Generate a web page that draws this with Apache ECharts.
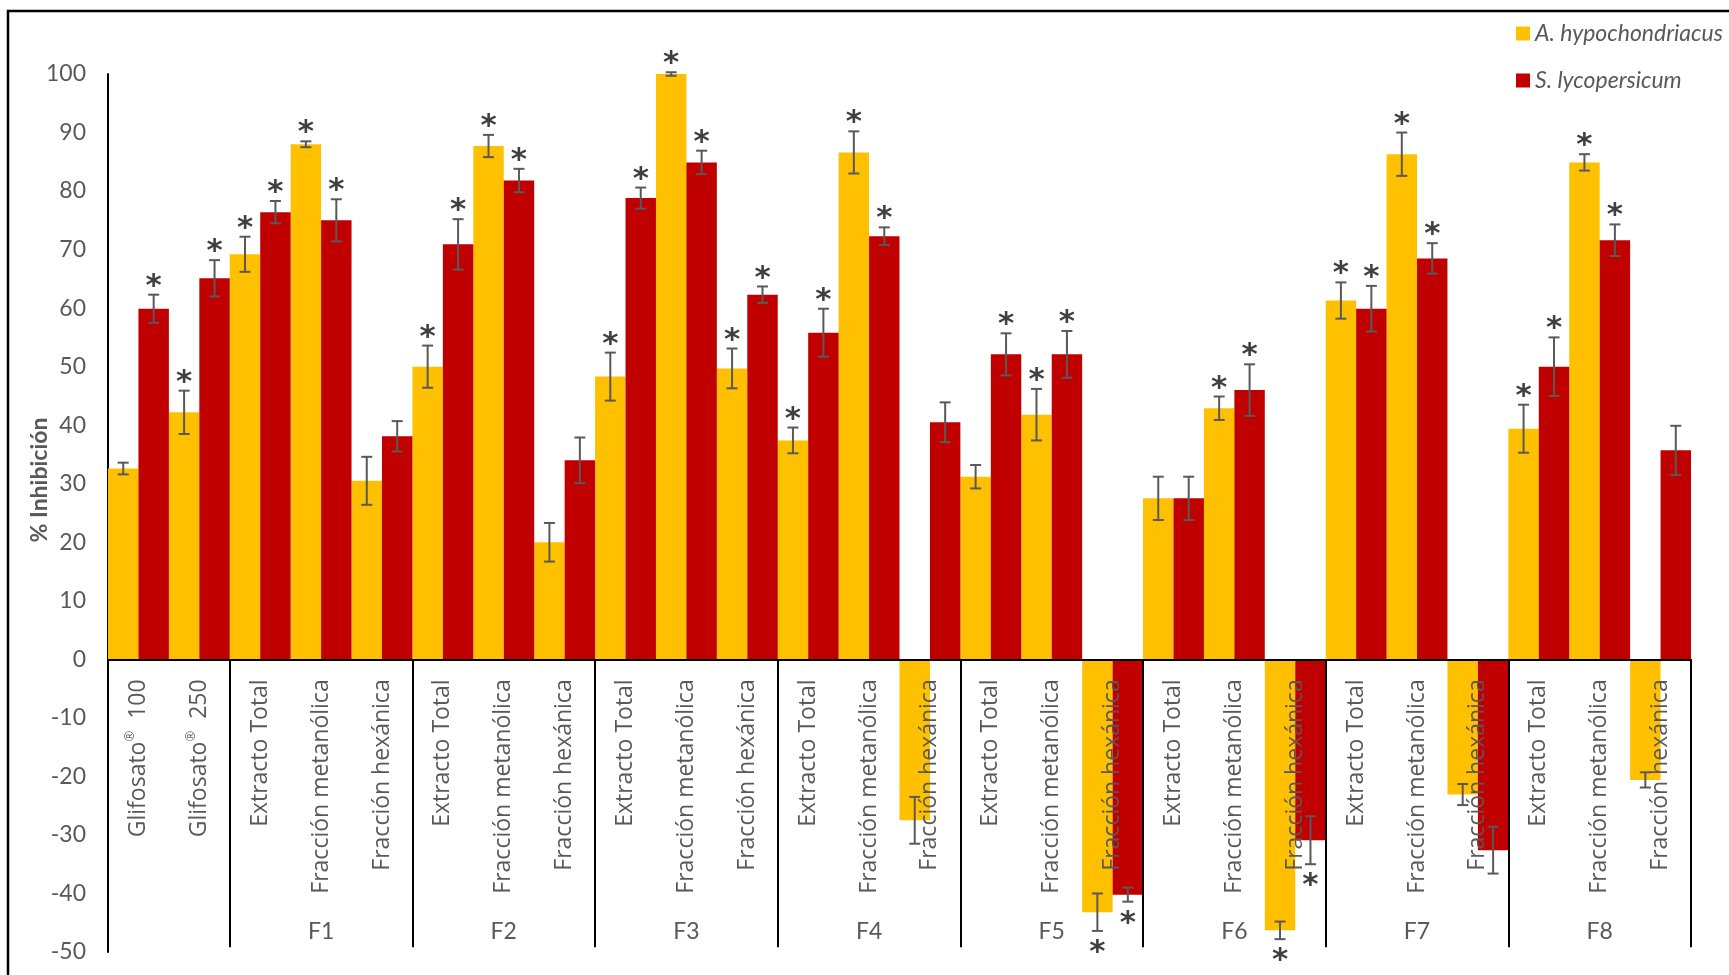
<!DOCTYPE html>
<html>
<head>
<meta charset="utf-8">
<script src="https://cdn.jsdelivr.net/npm/echarts@6/dist/echarts.min.js"></script>
<style>
  html, body { margin: 0; padding: 0; background: #fff; }
  #chart { width: 1729px; height: 975px; }
</style>
</head>
<body>
<div id="chart"></div>
<script>
// Treatments on the category axis (one bar pair per treatment)
const categories = [
  'Glifosato® 100', 'Glifosato® 250',
  'Extracto Total', 'Fracción metanólica', 'Fracción hexánica',
  'Extracto Total', 'Fracción metanólica', 'Fracción hexánica',
  'Extracto Total', 'Fracción metanólica', 'Fracción hexánica',
  'Extracto Total', 'Fracción metanólica', 'Fracción hexánica',
  'Extracto Total', 'Fracción metanólica', 'Fracción hexánica',
  'Extracto Total', 'Fracción metanólica', 'Fracción hexánica',
  'Extracto Total', 'Fracción metanólica', 'Fracción hexánica',
  'Extracto Total', 'Fracción metanólica', 'Fracción hexánica'
];

// Fraction groups shown under the treatments
const groups = ['', 'F1', 'F2', 'F3', 'F4', 'F5', 'F6', 'F7', 'F8'];
const groupSizes = [2, 3, 3, 3, 3, 3, 3, 3, 3];

const seriesNames = ['A. hypochondriacus', 'S. lycopersicum'];

// % inhibition, A. hypochondriacus
const amaranthValues = [32.6, 42.2, 69.2, 88.0, 30.5, 50.0, 87.7, 20.0, 48.3, 100.0, 49.7, 37.4, 86.6, -27.5,
  31.2, 41.8, -43.2, 27.5, 42.9, -46.3, 61.3, 86.3, -23.1, 39.4, 84.9, -20.6];
const amaranthErrors = [1.0, 3.7, 3.0, 0.5, 4.1, 3.6, 1.9, 3.3, 4.1, 0.3, 3.4, 2.2, 3.6, 4.0,
  2.0, 4.4, 3.2, 3.7, 2.0, 1.5, 3.1, 3.7, 1.8, 4.1, 1.4, 1.3];
const amaranthSignificant = [0, 1, 1, 1, 0, 1, 1, 0, 1, 1, 1, 1, 1, 0,
  0, 1, 1, 0, 1, 1, 1, 1, 0, 1, 1, 0];

// % inhibition, S. lycopersicum
const tomatoValues = [59.9, 65.1, 76.4, 75.0, 38.1, 70.9, 81.8, 34.0, 78.8, 84.9, 62.3, 55.8, 72.3, 40.5,
  52.1, 52.1, -40.2, 27.5, 46.0, -30.9, 59.9, 68.5, -32.6, 50.0, 71.6, 35.7];
const tomatoErrors = [2.4, 3.1, 1.9, 3.6, 2.6, 4.3, 2.0, 3.9, 1.8, 2.0, 1.4, 4.1, 1.5, 3.4,
  3.6, 4.0, 1.2, 3.7, 4.4, 4.1, 3.9, 2.6, 4.0, 5.0, 2.7, 4.2];
const tomatoSignificant = [1, 1, 1, 1, 0, 1, 1, 0, 1, 1, 1, 1, 1, 0,
  1, 1, 1, 0, 1, 1, 1, 1, 0, 1, 1, 0];

// Value axis range
const yMin = -50, yMax = 100, yStep = 10;

// Per-category group name, shown only at the middle of each group
const groupOfCategory = [];
const groupLabelAt = [];
const separatorAt = new Set();
{
  let start = 0;
  groupSizes.forEach((size, g) => {
    for (let k = 0; k < size; k++) {
      groupOfCategory.push(groups[g]);
      groupLabelAt.push(k === Math.floor(size / 2) && size === 3 ? groups[g] : '');
    }
    start += size;
    if (start < categories.length) separatorAt.add(start);
  });
}

const textGray = '#595959';
const barColors = ['#FFC000', '#C00000'];

function errorBarSeries(name, values, errors, significant, side) {
  return {
    name: name,
    type: 'custom',
    z: 4,
    silent: true,
    data: values.map((v, i) => [i, v, errors[i], significant[i]]),
    encode: { x: 0, y: 1 },
    renderItem(params, api) {
      const i = api.value(0), v = api.value(1), e = api.value(2), s = api.value(3);
      const band = api.size([1, 0])[0];
      const hi = api.coord([i, v + e]);
      const lo = api.coord([i, v - e]);
      const x = hi[0] + side * band / 4;
      const cap = 5.5;
      const style = { stroke: '#595959', lineWidth: 2 };
      const children = [
        { type: 'line', shape: { x1: x, y1: hi[1], x2: x, y2: lo[1] }, style: style },
        { type: 'line', shape: { x1: x - cap, y1: hi[1], x2: x + cap, y2: hi[1] }, style: style },
        { type: 'line', shape: { x1: x - cap, y1: lo[1], x2: x + cap, y2: lo[1] }, style: style }
      ];
      if (s) {
        const y = v >= 0 ? hi[1] - 8 : lo[1] + 22;
        children.push({
          type: 'text', x: x, y: y,
          style: { text: '*', fill: '#404040', font: 'bold 31px "DejaVu Sans"', align: 'center', verticalAlign: 'middle' }
        });
      }
      return { type: 'group', children: children };
    }
  };
}

const chart = echarts.init(document.getElementById('chart'), null, { renderer: 'canvas' });
const gridBottom = 23;

chart.setOption({
  backgroundColor: '#fff',
  animation: false,
  grid: { left: 108, right: 38, top: 74, bottom: gridBottom, containLabel: false, outerBoundsMode: 'none' },
  legend: {
    data: seriesNames,
    orient: 'vertical',
    left: 1511,
    top: 17,
    itemGap: 24,
    itemWidth: 14,
    itemHeight: 14,
    icon: 'rect',
    textStyle: { fontFamily: 'Lato', fontStyle: 'italic', fontSize: 23, color: textGray }
  },
  xAxis: [
    {
      type: 'category',
      data: categories,
      position: 'bottom',
      z: 10,
      axisLine: { onZero: false, lineStyle: { color: '#000', width: 2 } },
      axisTick: { show: false },
      axisLabel: {
        interval: 0,
        rotate: 90,
        margin: 20,
        color: textGray,
        fontFamily: 'Open Sans',
        fontSize: 23,
        formatter: function (value) {
          if (value.indexOf('®') >= 0) {
            const parts = value.split('®');
            return '{a|' + parts[0] + '}{s|®}{a| ' + parts[1] + '}';
          }
          return '{a|' + value + '}';
        },
        rich: {
          a: { fontFamily: 'Open Sans', fontSize: 23, color: textGray },
          s: { fontFamily: 'Open Sans', fontSize: 13, color: textGray, verticalAlign: 'top', lineHeight: 30 }
        }
      }
    },
    {
      type: 'category',
      data: groupOfCategory,
      position: 'bottom',
      z: 10,
      axisLine: { show: true, onZero: false, lineStyle: { color: '#000', width: 2 } },
      axisTick: {
        show: true,
        length: 288,
        interval: function (index) { return separatorAt.has(index); },
        lineStyle: { color: '#000', width: 2 }
      },
      axisLabel: {
        interval: 0,
        margin: 261,
        color: textGray,
        fontFamily: 'Lato',
        fontSize: 23,
        formatter: function (value, index) { return groupLabelAt[index]; }
      }
    }
  ],
  yAxis: {
    type: 'value',
    min: yMin,
    max: yMax,
    interval: yStep,
    axisLine: { show: true, lineStyle: { color: '#000', width: 2 } },
    axisTick: { show: false },
    splitLine: { show: false },
    axisLabel: { margin: 22, color: textGray, fontFamily: 'Lato', fontSize: 23 }
  },
  graphic: [
    {
      type: 'rect', silent: true, z: -10,
      shape: { x: 8, y: 11, width: 1760, height: 1010 },
      style: { fill: 'none', stroke: '#000', lineWidth: 2.5 }
    },
    {
      type: 'text', x: 40, y: 480, rotation: Math.PI / 2,
      style: { text: '% Inhibición', font: 'bold 23px Lato', fill: textGray, align: 'center', verticalAlign: 'middle' }
    }
  ],
  series: [
    {
      name: seriesNames[0], type: 'bar', data: amaranthValues,
      barGap: '0%', barCategoryGap: '0%',
      itemStyle: { color: barColors[0] }
    },
    {
      name: seriesNames[1], type: 'bar', data: tomatoValues,
      barGap: '0%', barCategoryGap: '0%',
      itemStyle: { color: barColors[1] }
    },
    errorBarSeries(seriesNames[0] + ' ± error', amaranthValues, amaranthErrors, amaranthSignificant, -1),
    errorBarSeries(seriesNames[1] + ' ± error', tomatoValues, tomatoErrors, tomatoSignificant, 1)
  ]
});

// Lift both category axes (line, labels, separators) up to the zero line
const zeroY = chart.convertToPixel({ yAxisIndex: 0 }, 0);
const lift = zeroY - (chart.getHeight() - gridBottom);
chart.setOption({ xAxis: [{ offset: lift }, { offset: lift }] });
</script>
</body>
</html>
